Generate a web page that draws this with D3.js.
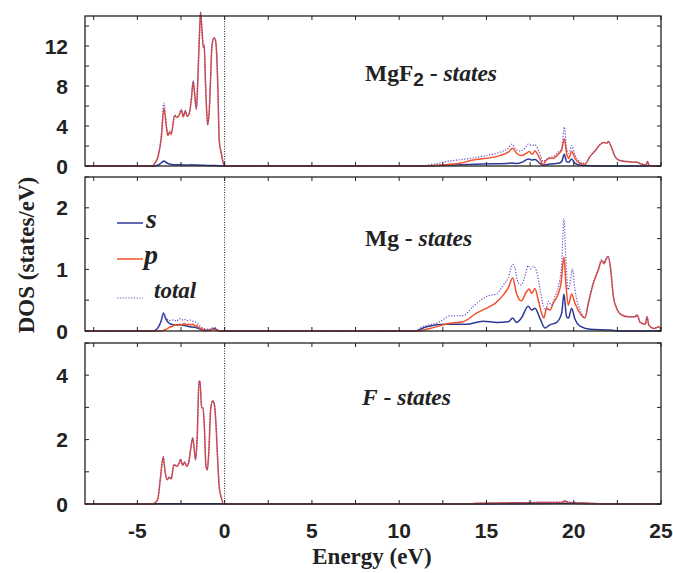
<!DOCTYPE html>
<html>
<head>
<meta charset="utf-8">
<script src="https://cdn.jsdelivr.net/npm/d3@7"></script>
<style>
  html, body { margin: 0; padding: 0; background: #fff; }
  svg { display: block; }
  .tick-label { font-family: "Liberation Sans", Arial, sans-serif; font-weight: bold; font-size: 21px; fill: #222; }
  .axis-title { font-family: "Liberation Serif", "Times New Roman", serif; font-weight: bold; font-size: 23px; fill: #222; }
  .note { font-family: "Liberation Serif", "Times New Roman", serif; font-weight: bold; font-size: 23.5px; fill: #222; }
</style>
</head>
<body>
<svg id="chart" width="673" height="573"></svg>
<script>
// Energy axis (eV) and tick labels
const energyTicks = [-7.5, -5, -2.5, 0, 2.5, 5, 7.5, 10, 12.5, 15, 17.5, 20, 22.5, 25];
const energyLabels = [-5, 0, 5, 10, 15, 20, 25];

// Panel titles and DOS tick labels
const panelNames = ["MgF2", "Mg", "F"];
const dosMax = [15, 2.5, 5];
const dosTickStep = [2, 0.5, 1];
const dosLabels = [[0, 4, 8, 12], [0, 1, 2], [0, 2, 4]];

// Legend entries
const seriesNames = ["s", "p", "total"];

// MgF2 – states: [energy, DOS]
const mgf2S = [[-8,0],[-4.1,0],[-3.8,0.1],[-3.6,0.35],[-3.48,0.5],[-3.3,0.3],[-3.1,0.18],[-2.8,0.12],[-2.5,0.12],[-2.2,0.1],[-1.9,0.12],[-1.6,0.1],[-1.3,0.08],[-1.0,0.06],[-0.6,0.05],[-0.3,0.03],[0,0],
  [11.18,0],[12.9,0.1],[14.81,0.2],[16.15,0.24],[16.44,0.3],[16.73,0.24],[17.11,0.44],[17.4,0.71],[17.58,0.6],[17.78,0.64],[18.06,0.27],[18.25,0.07],[18.63,0.2],[19.11,0.27],[19.31,0.44],[19.46,1.18],[19.59,0.44],[19.71,0.37],[19.88,0.71],[20.07,0.27],[20.45,0.07],[21.5,0],[25,0]];
const mgf2P = [[-8,0],[-4.15,0],[-4.0,0.28],[-3.82,0.9],[-3.63,2.8],[-3.48,5.8],[-3.33,3.8],[-3.25,3.05],[-3.14,3.4],[-3.06,3.15],[-2.87,5.0],[-2.71,4.85],[-2.6,5.1],[-2.48,5.6],[-2.37,4.9],[-2.26,5.5],[-2.14,4.95],[-2.03,5.2],[-1.91,6.6],[-1.8,8.45],[-1.72,7.2],[-1.62,5.65],[-1.53,8.95],[-1.43,13.7],[-1.38,15.4],[-1.3,13.65],[-1.22,11.85],[-1.17,12.05],[-1.11,8.95],[-1.03,5.55],[-0.97,4.1],[-0.88,5.55],[-0.8,8.95],[-0.73,11.95],[-0.61,12.8],[-0.54,12.65],[-0.46,11.35],[-0.38,7.25],[-0.31,2.55],[-0.19,1.25],[-0.04,0.1],[0,0],
  [11.37,0],[12.33,0.1],[13.48,0.27],[14.24,0.6],[15.0,0.77],[15.77,1.04],[16.25,1.38],[16.5,1.78],[16.73,1.28],[17.01,1.04],[17.3,1.28],[17.45,1.44],[17.62,1.18],[17.78,1.51],[18.03,0.84],[18.25,0.17],[18.44,0.6],[18.63,0.77],[18.83,0.77],[19.11,1.18],[19.31,1.61],[19.46,2.72],[19.59,1.28],[19.71,0.77],[19.88,1.44],[20.07,0.77],[20.35,0.27],[20.64,0.17],[20.93,0.94],[21.22,1.51],[21.5,2.12],[21.73,2.35],[21.89,2.28],[21.98,2.45],[22.12,2.05],[22.37,0.94],[22.56,0.6],[23.04,0.44],[23.61,0.37],[23.9,0.17],[24.15,0.1],[24.22,0.44],[24.34,0.03],[24.76,0.03],[25,0]];
const mgf2Total = [[-8,0],[-4.15,0],[-4.0,0.3],[-3.82,0.95],[-3.63,3.0],[-3.48,6.3],[-3.33,4.0],[-3.25,3.15],[-3.14,3.5],[-3.06,3.25],[-2.87,5.1],[-2.71,4.95],[-2.6,5.2],[-2.48,5.7],[-2.37,5.0],[-2.26,5.6],[-2.14,5.05],[-2.03,5.3],[-1.91,6.7],[-1.8,8.55],[-1.72,7.3],[-1.62,5.75],[-1.53,9.0],[-1.43,13.7],[-1.38,15.3],[-1.3,13.7],[-1.22,11.9],[-1.17,12.1],[-1.11,9.0],[-1.03,5.6],[-0.97,4.15],[-0.88,5.6],[-0.8,9.0],[-0.73,12.0],[-0.61,12.85],[-0.54,12.7],[-0.46,11.4],[-0.38,7.3],[-0.31,2.6],[-0.19,1.3],[-0.04,0.1],[0,0],
  [11.1,0],[11.95,0.17],[12.9,0.5],[13.86,0.71],[14.97,1.04],[15.77,1.38],[16.25,1.78],[16.48,2.2],[16.63,1.78],[16.92,1.5],[17.2,1.78],[17.4,2.2],[17.58,2.05],[17.78,2.12],[18.03,1.38],[18.25,0.45],[18.39,0.6],[18.58,0.84],[18.83,0.94],[19.11,1.38],[19.31,1.78],[19.46,3.9],[19.59,1.78],[19.72,1.28],[19.88,2.05],[20.07,1.11],[20.35,0.44],[20.64,0.27],[20.93,0.96],[21.22,1.53],[21.5,2.14],[21.73,2.37],[21.89,2.3],[21.98,2.47],[22.12,2.07],[22.37,0.95],[22.56,0.61],[23.04,0.45],[23.61,0.38],[23.9,0.18],[24.15,0.1],[24.22,0.44],[24.34,0.03],[24.76,0.03],[25,0]];

// Mg – states
const mgS = [[-8,0],[-4.1,0],[-3.85,0.04],[-3.65,0.15],[-3.5,0.29],[-3.38,0.2],[-3.15,0.12],[-2.9,0.1],[-2.6,0.1],[-2.3,0.09],[-2.0,0.07],[-1.7,0.06],[-1.4,0.03],[-1.1,0.01],[-0.8,0.02],[-0.57,0.04],[-0.4,0.01],[-0.2,0],
  [10.9,0],[11.56,0.07],[12.72,0.11],[13.85,0.11],[14.81,0.16],[15.6,0.14],[16.25,0.15],[16.5,0.21],[16.72,0.14],[17.0,0.21],[17.39,0.4],[17.59,0.34],[17.78,0.37],[18.06,0.21],[18.35,0.05],[18.63,0.1],[19.02,0.14],[19.31,0.29],[19.44,0.6],[19.59,0.23],[19.7,0.21],[19.88,0.37],[20.07,0.19],[20.36,0.08],[20.93,0.03],[22.08,0.015],[22.65,0],[25,0]];
const mgP = [[-8,0],[-3.8,0],[-3.5,0.01],[-3.34,0.03],[-3.15,0.06],[-2.96,0.08],[-2.85,0.1],[-2.7,0.09],[-2.58,0.11],[-2.45,0.1],[-2.3,0.12],[-2.2,0.1],[-2.05,0.11],[-1.95,0.1],[-1.8,0.11],[-1.7,0.08],[-1.62,0.09],[-1.5,0.06],[-1.43,0.05],[-1.2,0.02],[-0.9,0.01],[-0.6,0.03],[-0.45,0.01],[-0.2,0],
  [11.0,0],[11.75,0.04],[12.91,0.125],[13.66,0.15],[14.43,0.29],[15.2,0.4],[15.5,0.45],[15.98,0.59],[16.25,0.7],[16.5,0.86],[16.72,0.61],[17.0,0.49],[17.3,0.64],[17.45,0.68],[17.59,0.61],[17.78,0.69],[17.97,0.5],[18.16,0.29],[18.29,0.21],[18.44,0.37],[18.63,0.34],[18.83,0.45],[19.12,0.61],[19.27,0.77],[19.44,1.2],[19.55,0.77],[19.69,0.42],[19.88,0.6],[20.07,0.45],[20.36,0.29],[20.64,0.21],[20.84,0.45],[21.12,0.77],[21.41,0.99],[21.6,1.14],[21.74,1.09],[21.85,1.16],[21.98,1.2],[22.12,0.99],[22.27,0.56],[22.46,0.37],[22.75,0.26],[23.14,0.23],[23.52,0.23],[23.62,0.26],[23.81,0.14],[24.1,0.11],[24.2,0.23],[24.3,0.1],[24.6,0.04],[24.88,0.07],[25,0.02]];
const mgTotal = [[-8,0],[-4.1,0],[-3.85,0.04],[-3.65,0.16],[-3.5,0.3],[-3.38,0.22],[-3.15,0.17],[-2.9,0.18],[-2.75,0.16],[-2.6,0.2],[-2.45,0.18],[-2.3,0.19],[-2.15,0.17],[-2.0,0.18],[-1.85,0.16],[-1.7,0.15],[-1.45,0.09],[-1.2,0.04],[-0.9,0.03],[-0.57,0.06],[-0.4,0.02],[-0.2,0],
  [10.8,0],[11.37,0.07],[12.33,0.15],[12.91,0.245],[13.66,0.25],[14.24,0.4],[15.0,0.56],[15.6,0.61],[15.98,0.75],[16.25,0.86],[16.5,1.08],[16.63,1.02],[16.82,0.78],[17.0,0.75],[17.2,0.88],[17.39,1.06],[17.53,1.01],[17.68,1.05],[17.87,0.97],[18.06,0.7],[18.26,0.4],[18.39,0.34],[18.54,0.48],[18.73,0.42],[18.92,0.56],[19.12,0.72],[19.31,1.1],[19.44,1.82],[19.55,1.16],[19.69,0.67],[19.82,0.83],[19.92,1.01],[20.07,0.67],[20.36,0.34],[20.64,0.22],[20.84,0.46],[21.12,0.79],[21.41,1.01],[21.6,1.16],[21.74,1.11],[21.85,1.18],[21.98,1.22],[22.12,1.0],[22.27,0.57],[22.46,0.37],[22.75,0.26],[23.14,0.23],[23.52,0.23],[23.62,0.26],[23.81,0.14],[24.1,0.11],[24.2,0.23],[24.3,0.1],[24.6,0.04],[24.88,0.07],[25,0.02]];

// F – states
const fS = [[-8,0],[-4.1,0],[-3.5,0.01],[-2.5,0.01],[-1.5,0.01],[-0.5,0.01],[0,0],[14,0],[17,0.01],[19.5,0.02],[21,0.01],[25,0]];
const fP = [[-8,0],[-4.15,0],[-3.95,0.05],[-3.82,0.18],[-3.67,0.85],[-3.52,1.46],[-3.4,0.96],[-3.29,0.75],[-3.18,0.83],[-3.06,0.78],[-2.91,1.22],[-2.75,1.17],[-2.6,1.27],[-2.52,1.38],[-2.41,1.2],[-2.29,1.3],[-2.18,1.17],[-2.06,1.28],[-1.95,1.69],[-1.83,2.05],[-1.76,1.79],[-1.66,1.37],[-1.57,2.1],[-1.47,3.82],[-1.41,3.78],[-1.32,2.99],[-1.24,2.99],[-1.16,2.37],[-1.07,1.17],[-0.99,1.06],[-0.9,1.69],[-0.8,2.94],[-0.69,3.2],[-0.59,3.1],[-0.5,2.52],[-0.4,1.38],[-0.31,0.54],[-0.19,0.19],[-0.04,0],[0,0],
  [13.5,0],[14.5,0.02],[15.5,0.03],[16.5,0.04],[17.5,0.04],[18.5,0.05],[19.3,0.05],[19.5,0.09],[19.7,0.05],[20.5,0.03],[21.5,0.01],[22.5,0],[25,0]];
const fTotal = [[-8,0],[-4.15,0],[-3.95,0.05],[-3.82,0.18],[-3.67,0.86],[-3.52,1.47],[-3.4,0.97],[-3.29,0.76],[-3.18,0.84],[-3.06,0.79],[-2.91,1.23],[-2.75,1.18],[-2.6,1.28],[-2.52,1.39],[-2.41,1.21],[-2.29,1.31],[-2.18,1.18],[-2.06,1.29],[-1.95,1.7],[-1.83,2.06],[-1.76,1.8],[-1.66,1.38],[-1.57,2.11],[-1.47,3.83],[-1.41,3.79],[-1.32,3.0],[-1.24,3.0],[-1.16,2.38],[-1.07,1.18],[-0.99,1.07],[-0.9,1.7],[-0.8,2.95],[-0.69,3.21],[-0.59,3.11],[-0.5,2.53],[-0.4,1.39],[-0.31,0.55],[-0.19,0.2],[-0.04,0],[0,0],
  [13.5,0],[14.5,0.02],[15.5,0.03],[16.5,0.04],[17.5,0.05],[18.5,0.06],[19.3,0.06],[19.5,0.11],[19.7,0.06],[20.5,0.04],[21.5,0.01],[22.5,0],[25,0]];

const panelSeries = [
  [mgf2S, mgf2P, mgf2Total],
  [mgS, mgP, mgTotal],
  [fS, fP, fTotal]
];

const colors = { s: "#2b3a96", p: "#f2502a", total: "#6b4cc4" };

const svg = d3.select("#chart");
const left = 85, right = 661;
const panelTops = [16, 177, 343];
const panelBottoms = [166, 331, 504];

const x = d3.scaleLinear().domain([-8, 25]).range([left, right]);

panelSeries.forEach((series, i) => {
  const top = panelTops[i], bottom = panelBottoms[i];
  const y = d3.scaleLinear().domain([0, dosMax[i]]).range([bottom, top]);
  const g = svg.append("g");

  const line = d3.line()
    .x(d => x(d[0]))
    .y(d => y(d[1]))
    .curve(d3.curveMonotoneX);

  // Fermi level marker
  g.append("line")
    .attr("x1", x(0)).attr("x2", x(0))
    .attr("y1", top).attr("y2", bottom)
    .attr("stroke", "#222").attr("stroke-width", 1)
    .attr("stroke-dasharray", "1,1.5");

  // s, p, then dotted total on top
  g.append("path").datum(series[0]).attr("d", line)
    .attr("fill", "none").attr("stroke", colors.s).attr("stroke-width", 1.5);
  g.append("path").datum(series[1]).attr("d", line)
    .attr("fill", "none").attr("stroke", colors.p).attr("stroke-width", 1.5);
  g.append("path").datum(series[2]).attr("d", line)
    .attr("fill", "none").attr("stroke", colors.total).attr("stroke-width", 1.2)
    .attr("stroke-dasharray", "1.2,1.6");

  // Frame
  g.append("rect")
    .attr("x", left).attr("y", top)
    .attr("width", right - left).attr("height", bottom - top)
    .attr("fill", "none").attr("stroke", "#222").attr("stroke-width", 1.3);

  // Inward ticks on all four sides
  const tickLen = 4;
  const yTicks = d3.range(0, dosMax[i] + 1e-9, dosTickStep[i]);
  g.selectAll(null).data(yTicks).join("line")
    .attr("x1", left).attr("x2", left + tickLen)
    .attr("y1", d => y(d)).attr("y2", d => y(d))
    .attr("stroke", "#222").attr("stroke-width", 1);
  g.selectAll(null).data(yTicks).join("line")
    .attr("x1", right).attr("x2", right - tickLen)
    .attr("y1", d => y(d)).attr("y2", d => y(d))
    .attr("stroke", "#222").attr("stroke-width", 1);
  g.selectAll(null).data(energyTicks).join("line")
    .attr("x1", d => x(d)).attr("x2", d => x(d))
    .attr("y1", bottom).attr("y2", bottom - tickLen)
    .attr("stroke", "#222").attr("stroke-width", 1);
  g.selectAll(null).data(energyTicks).join("line")
    .attr("x1", d => x(d)).attr("x2", d => x(d))
    .attr("y1", top).attr("y2", top + tickLen)
    .attr("stroke", "#222").attr("stroke-width", 1);

  // DOS tick labels
  g.selectAll(null).data(dosLabels[i]).join("text")
    .attr("class", "tick-label")
    .attr("x", 68).attr("y", d => y(d))
    .attr("dy", "0.36em")
    .attr("text-anchor", "end")
    .text(d => d);
});

// Energy tick labels under the last panel
svg.selectAll(null).data(energyLabels).join("text")
  .attr("class", "tick-label")
  .attr("x", d => x(d)).attr("y", 538)
  .attr("text-anchor", "middle")
  .text(d => d);

// Axis titles
svg.append("text").attr("class", "axis-title")
  .attr("x", 372).attr("y", 564)
  .attr("text-anchor", "middle")
  .text("Energy (eV)");
svg.append("text").attr("class", "axis-title")
  .attr("transform", "translate(34,255) rotate(-90)")
  .attr("text-anchor", "middle")
  .text("DOS (states/eV)");

// Panel annotations
function note(xPos, yPos, name, sub) {
  const t = svg.append("text").attr("class", "note").attr("x", xPos).attr("y", yPos);
  if (name === "F") {
    t.append("tspan").attr("font-style", "italic").text("F");
  } else {
    t.append("tspan").text(name);
  }
  if (sub) {
    t.append("tspan").attr("font-family", "Liberation Sans, Arial, sans-serif")
      .attr("font-size", 19).attr("dy", 5).text(sub);
    t.append("tspan").attr("dy", -5).text(" - ");
  } else {
    t.append("tspan").text(" - ");
  }
  t.append("tspan").attr("font-style", "italic").text("states");
}
note(365, 81, panelNames[0].slice(0, 3), panelNames[0].slice(3));
note(365, 246, panelNames[1], null);
note(362, 405, panelNames[2], null);

// Legend inside the Mg panel
const legendRows = [
  { name: seriesNames[0], y: 223, dash: null, w: 1.5, size: 28, tx: 146 },
  { name: seriesNames[1], y: 259, dash: null, w: 1.5, size: 28, tx: 144 },
  { name: seriesNames[2], y: 298, dash: "1.2,1.6", w: 1.2, size: 23, tx: 154 }
];
legendRows.forEach(r => {
  svg.append("line")
    .attr("x1", 117).attr("x2", 143).attr("y1", r.y).attr("y2", r.y)
    .attr("stroke", colors[r.name]).attr("stroke-width", r.w)
    .attr("stroke-dasharray", r.dash);
  svg.append("text")
    .attr("x", r.tx).attr("y", r.name === "total" ? r.y : r.y + 5)
    .attr("font-family", "Liberation Serif, Times New Roman, serif")
    .attr("font-weight", "bold").attr("font-style", "italic")
    .attr("font-size", r.size).attr("fill", "#222")
    .text(r.name);
});
</script>
</body>
</html>
